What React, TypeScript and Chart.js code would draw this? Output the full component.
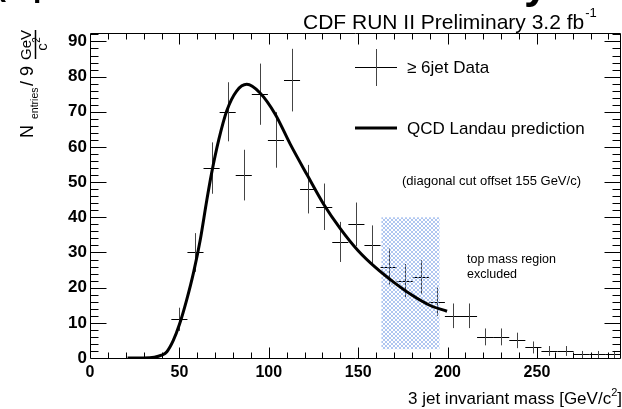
import React, { useEffect, useRef } from "react";
import { Chart, registerables } from "chart.js";

Chart.register(...registerables);

// ---- data ----
const binCenters = [50, 59, 68, 77, 86, 95, 104, 113, 122, 131, 140, 149, 158, 167, 176, 185, 194, 203, 212, 221, 230, 239, 248, 257, 266, 275, 284, 293];
const counts = [11, 30, 54, 70, 52, 75, 62, 79, 48, 43, 33, 38, 32, 26, 22, 23, 16, 12, 12, 6, 6, 5, 3, 2, 2, 1, 1, 1];
const countErrors = [3.3, 5.5, 7.3, 8.4, 7.2, 8.7, 7.9, 8.9, 6.9, 6.6, 5.7, 6.2, 5.7, 5.1, 4.7, 4.8, 4, 3.5, 3.5, 2.4, 2.4, 2.2, 1.7, 1.4, 1.4, 1, 1, 1];
const binHalfWidth = 4.5;

const curveX = [21, 30, 36, 40, 43, 46.6, 50, 54, 58, 61.6, 65.3, 68, 72, 76.5, 82, 87.7, 95, 103.6, 112, 121.5, 130.6, 140, 150, 160, 170, 180, 190, 199.7];
const curveY = [0, 0, 0.2, 0.8, 1.8, 5, 9.5, 16.4, 24.5, 33.4, 44.8, 52.5, 62, 70.3, 75.9, 77.8, 75.4, 69.3, 60.8, 52, 43.8, 36.8, 30.5, 25.6, 21.5, 17.9, 15.0, 13.3];

const excludedX = [163, 195.5];
const excludedY = [2.5, 40];

const xRange = [0, 297];
const yRange = [0, 92.4];
const xMajorStep = 50;
const xMinorStep = 10;
const yMajorStep = 10;
const yMinorStep = 2;

const FONT = '"Liberation Sans", Arial, Helvetica, sans-serif';

function makeHatch(ctx: CanvasRenderingContext2D) {
  const c = document.createElement("canvas");
  c.width = 4;
  c.height = 4;
  const g = c.getContext("2d")!;
  g.strokeStyle = "rgba(120,160,230,0.75)";
  g.lineWidth = 0.8;
  g.beginPath();
  g.moveTo(0, 0);
  g.lineTo(4, 4);
  g.moveTo(4, 0);
  g.lineTo(0, 4);
  g.stroke();
  return ctx.createPattern(c, "repeat");
}

const rootPlugin = {
  id: "rootStyle",
  beforeDatasetsDraw(chart: any) {
    const { ctx, chartArea: a } = chart;
    const xs = chart.scales.x;
    const ys = chart.scales.y;
    ctx.save();
    ctx.beginPath();
    ctx.rect(a.left, a.top, a.right - a.left, a.bottom - a.top);
    ctx.clip();
    // error-bar crosses
    ctx.lineWidth = 1;
    for (let i = 0; i < binCenters.length; i++) {
      const c = binCenters[i];
      const v = counts[i];
      const e = countErrors[i];
      const px = Math.round(xs.getPixelForValue(c)) + 0.5;
      const py = Math.round(ys.getPixelForValue(v)) + 0.5;
      ctx.strokeStyle = "#000";
      ctx.beginPath();
      ctx.moveTo(xs.getPixelForValue(c - binHalfWidth), py);
      ctx.lineTo(xs.getPixelForValue(c + binHalfWidth), py);
      ctx.stroke();
      ctx.strokeStyle = "#444";
      ctx.beginPath();
      ctx.moveTo(px, ys.getPixelForValue(v - e));
      ctx.lineTo(px, ys.getPixelForValue(v + e));
      ctx.stroke();
    }
    // hatched excluded region
    const pat = makeHatch(ctx);
    if (pat) {
      ctx.fillStyle = pat;
      const x0 = xs.getPixelForValue(excludedX[0]);
      const x1 = xs.getPixelForValue(excludedX[1]);
      const y0 = ys.getPixelForValue(excludedY[1]);
      const y1 = ys.getPixelForValue(excludedY[0]);
      ctx.fillRect(x0, y0, x1 - x0, y1 - y0);
    }
    ctx.restore();
  },
  afterDraw(chart: any) {
    const { ctx, chartArea: a } = chart;
    const xs = chart.scales.x;
    const ys = chart.scales.y;
    ctx.save();
    // frame
    ctx.strokeStyle = "#000";
    ctx.lineWidth = 1;
    const L = Math.round(a.left) + 0.5;
    const R = Math.round(a.right) - 0.5;
    const T = Math.round(a.top) + 0.5;
    const B = Math.round(a.bottom) + 0.5;
    ctx.beginPath();
    ctx.moveTo(L, T);
    ctx.lineTo(R, T);
    ctx.lineTo(R, B);
    ctx.lineTo(L, B);
    ctx.closePath();
    ctx.stroke();
    // x ticks (bottom & top)
    ctx.beginPath();
    for (let v = xRange[0] + xMinorStep; v < xRange[1]; v += xMinorStep) {
      const px = Math.round(xs.getPixelForValue(v)) + 0.5;
      const len = v % xMajorStep === 0 ? 11 : 6;
      ctx.moveTo(px, B);
      ctx.lineTo(px, B - len);
      ctx.moveTo(px, T);
      ctx.lineTo(px, T + len);
    }
    // y ticks (left & right)
    for (let v = yRange[0] + yMinorStep; v < yRange[1]; v += yMinorStep) {
      const py = Math.round(ys.getPixelForValue(v)) + 0.5;
      const len = Math.abs(v % yMajorStep) < 1e-6 ? 16 : 8;
      ctx.moveTo(L, py);
      ctx.lineTo(L + len, py);
      ctx.moveTo(R, py);
      ctx.lineTo(R - len, py);
    }
    ctx.stroke();

    ctx.fillStyle = "#000";
    ctx.textBaseline = "alphabetic";
    ctx.textAlign = "left";

    // cropped header fragments at the very top
    ctx.font = `bold 30px ${FONT}`;
    ctx.fillText("(", -4, -4.5);
    ctx.fillText("p", 33, -3);
    ctx.font = `bold 44px ${FONT}`;
    ctx.fillText("y", 524, -2);

    // top-right label
    ctx.font = `21px ${FONT}`;
    const t1 = "CDF RUN II Preliminary 3.2 fb";
    ctx.fillText(t1, 303, 29);
    const w1 = ctx.measureText(t1).width;
    ctx.font = `13px ${FONT}`;
    ctx.fillText("-1", 303 + w1 + 1, 17);

    // legend
    ctx.strokeStyle = "#000";
    ctx.lineWidth = 1;
    ctx.beginPath();
    ctx.moveTo(355, 67.5);
    ctx.lineTo(397, 67.5);
    ctx.stroke();
    ctx.strokeStyle = "#444";
    ctx.beginPath();
    ctx.moveTo(376.5, 49);
    ctx.lineTo(376.5, 86);
    ctx.stroke();
    ctx.strokeStyle = "#000";
    ctx.lineWidth = 3;
    ctx.beginPath();
    ctx.moveTo(355, 128);
    ctx.lineTo(397, 128);
    ctx.stroke();
    ctx.font = `17px ${FONT}`;
    ctx.fillText("\u2265 6jet Data", 407, 73);
    ctx.fillText("QCD Landau prediction", 407, 134);
    ctx.font = `13px ${FONT}`;
    ctx.fillText("(diagonal cut offset 155 GeV/c)", 402, 185);
    ctx.font = `12.5px ${FONT}`;
    ctx.fillText("top mass region", 467, 263);
    ctx.fillText("excluded", 467, 278);

    // x axis title
    ctx.font = `17px ${FONT}`;
    const xt = "3 jet invariant mass [GeV/c";
    ctx.fillText(xt, 408, 404);
    const wx = ctx.measureText(xt).width;
    ctx.font = `11px ${FONT}`;
    ctx.fillText("2", 408 + wx, 396);
    const w2 = ctx.measureText("2").width;
    ctx.font = `17px ${FONT}`;
    ctx.fillText("]", 408 + wx + w2, 404);

    // y axis title (rotated)
    ctx.save();
    ctx.rotate(-Math.PI / 2);
    ctx.font = `18px ${FONT}`;
    ctx.fillText("N", -138, 33);
    ctx.font = `10.5px ${FONT}`;
    ctx.fillText("entries", -119, 38);
    ctx.font = `18px ${FONT}`;
    ctx.fillText("/ 9", -86, 33);
    ctx.font = `15px ${FONT}`;
    ctx.textAlign = "center";
    ctx.fillText("GeV", -45, 31);
    ctx.fillText("c", -47, 47);
    ctx.font = `10px ${FONT}`;
    ctx.fillText("2", -40, 40);
    ctx.restore();
    ctx.lineWidth = 1.5;
    ctx.beginPath();
    ctx.moveTo(35.5, 30);
    ctx.lineTo(35.5, 59);
    ctx.stroke();

    ctx.restore();
  },
};

export default function App() {
  const ref = useRef<HTMLCanvasElement | null>(null);
  useEffect(() => {
    document.body.style.margin = "0";
    const canvas = ref.current;
    if (!canvas) return;
    const tickFont = { family: FONT, weight: "bold" as const, size: 16 };
    const chart = new Chart(canvas, {
      type: "scatter",
      data: {
        datasets: [
          {
            label: "\u2265 6jet Data",
            data: binCenters.map((x, i) => ({ x, y: counts[i] })),
            pointRadius: 0,
            showLine: false,
          },
          {
            label: "QCD Landau prediction",
            data: curveX.map((x, i) => ({ x, y: curveY[i] })),
            showLine: true,
            pointRadius: 0,
            borderColor: "#000",
            borderWidth: 3,
            cubicInterpolationMode: "monotone",
            fill: false,
          } as any,
        ],
      },
      options: {
        animation: false,
        responsive: false,
        devicePixelRatio: 1,
        layout: { padding: { top: 33, right: 1, left: 0, bottom: 0 } },
        plugins: {
          legend: { display: false },
          tooltip: { enabled: false },
          title: { display: false },
        },
        scales: {
          x: {
            type: "linear",
            min: xRange[0],
            max: xRange[1],
            grid: { display: false, drawTicks: false },
            border: { display: false },
            ticks: {
              stepSize: xMajorStep,
              includeBounds: false,
              autoSkip: false,
              maxRotation: 0,
              color: "#000",
              padding: 5,
              font: tickFont,
            },
            afterFit: (s: any) => {
              s.height = 51;
            },
          },
          y: {
            type: "linear",
            min: yRange[0],
            max: yRange[1],
            grid: { display: false, drawTicks: false },
            border: { display: false },
            ticks: {
              stepSize: yMajorStep,
              includeBounds: false,
              autoSkip: false,
              color: "#000",
              padding: 3,
              font: { ...tickFont, size: 17 },
            },
            afterFit: (s: any) => {
              s.width = 90;
            },
          },
        },
      },
      plugins: [rootPlugin],
    });
    return () => chart.destroy();
  }, []);
  return (
    <div style={{ position: "absolute", left: 0, top: 0, width: 622, height: 409, background: "#fff" }}>
      <canvas ref={ref} width={622} height={409} />
    </div>
  );
}
